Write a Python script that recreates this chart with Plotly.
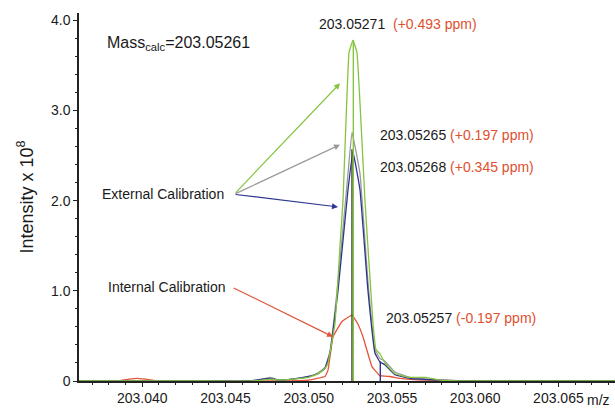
import plotly.graph_objects as go

# Green trace (external calibration, highest)
green_mz = [203.0362, 203.0440, 203.0465, 203.0472, 203.0477, 203.0482, 203.0490, 203.0500,
            203.05056, 203.05098, 203.05116, 203.05158, 203.05188, 203.05206, 203.05242,
            203.05266, 203.05290, 203.05338, 203.05386, 203.05404, 203.05428, 203.05458,
            203.05518, 203.05608, 203.05698, 203.05788, 203.0600, 203.0684]
green_int = [0.0, 0.0, 0.0, 0.01, 0.02, 0.01, 0.02, 0.04,
             0.08, 0.14, 0.2, 0.64, 1.5, 2.0, 3.64,
             3.78, 3.64, 2.0, 0.64, 0.35, 0.3, 0.2,
             0.08, 0.04, 0.04, 0.01, 0.0, 0.0]

# Gray trace (external calibration, middle)
gray_mz = [203.0362, 203.0440, 203.0465, 203.0472, 203.0477, 203.0482, 203.0490, 203.0500,
           203.05056, 203.05098, 203.05128, 203.05176, 203.05236, 203.05260, 203.05308,
           203.05356, 203.05398, 203.05428, 203.05458, 203.05518, 203.05608, 203.05788,
           203.0600, 203.0684]
gray_int = [0.0, 0.0, 0.0, 0.02, 0.04, 0.01, 0.02, 0.05,
            0.09, 0.15, 0.33, 1.1, 2.3, 2.76, 2.3,
            1.1, 0.35, 0.25, 0.22, 0.1, 0.04, 0.01,
            0.0, 0.0]

# Blue trace (external calibration, lowest)
blue_mz = [203.0362, 203.0440, 203.0465, 203.0472, 203.0477, 203.0482, 203.0490, 203.0500,
           203.05056, 203.05098, 203.05128, 203.05176, 203.05236, 203.05266, 203.05308,
           203.05356, 203.05398, 203.05428, 203.05458, 203.05518, 203.05608, 203.05788,
           203.0600, 203.0684]
blue_int = [0.0, 0.0, 0.0, 0.02, 0.03, 0.01, 0.02, 0.05,
            0.08, 0.14, 0.31, 1.0, 2.12, 2.54, 2.12,
            1.0, 0.31, 0.21, 0.18, 0.07, 0.03, 0.01,
            0.0, 0.0]

# Red trace (internal calibration)
red_mz = [203.0362, 203.0385, 203.0392, 203.0397, 203.0402, 203.0410, 203.0480, 203.0500,
          203.05098, 203.05116, 203.05146, 203.05200, 203.05260, 203.05296, 203.05326,
          203.05380, 203.05428, 203.05488, 203.05548, 203.0570, 203.0600, 203.0684]
red_int = [0.0, 0.0, 0.02, 0.03, 0.02, 0.0, 0.0, 0.01,
           0.05, 0.12, 0.49, 0.66, 0.73, 0.63, 0.49,
           0.16, 0.06, 0.05, 0.03, 0.01, 0.0, 0.0]

# centroid sticks
stick_mz = [203.05260, 203.05268, 203.05430]
stick_h = [2.57, 3.78, 0.22]

xtick_vals = [203.040, 203.045, 203.050, 203.055, 203.060, 203.065]
xtick_text = ["203.040", "203.045", "203.050", "203.055", "203.060", "203.065"]
ytick_vals = [0, 1, 2, 3, 4]
ytick_text = ["0", "1.0", "2.0", "3.0", "4.0"]

GREEN = "#86c440"
GRAY = "#9a9a9a"
BLUE = "#2c3590"
RED = "#e2553a"
DARK = "#2f3f2a"
PPM = "#e0502e"

fig = go.Figure()
for xs, ys, c in [(red_mz, red_int, RED), (gray_mz, gray_int, GRAY),
                  (blue_mz, blue_int, BLUE), (green_mz, green_int, GREEN)]:
    fig.add_trace(go.Scatter(x=xs, y=ys, mode="lines",
                             line=dict(color=c, width=1.3, shape="spline", smoothing=0.25)))
stick_colors = [DARK, GREEN, BLUE]
for sx, sh, sc in zip(stick_mz, stick_h, stick_colors):
    fig.add_trace(go.Scatter(x=[sx, sx], y=[0, sh], mode="lines", line=dict(color=sc, width=1.4)))

F = "Liberation Sans, Arial, sans-serif"
ann = []
def txt(x, y, s, size=14, xanchor="left"):
    ann.append(dict(x=x, y=y, xref="x", yref="y", text=s, showarrow=False,
                    xanchor=xanchor, yanchor="middle", font=dict(family=F, size=size, color="#1a1a1a")))

txt(203.03776, 3.74, "Mass<sub>calc</sub>=203.05261", size=16)
txt(203.05050, 3.96, "203.05271  <span style='color:%s'>(+0.493 ppm)</span>" % PPM)
txt(203.05416, 2.73, "203.05265 <span style='color:%s'>(+0.197 ppm)</span>" % PPM)
txt(203.05416, 2.37, "203.05268 <span style='color:%s'>(+0.345 ppm)</span>" % PPM)
txt(203.05452, 0.70, "203.05257 <span style='color:%s'>(-0.197 ppm)</span>" % PPM)
txt(203.04504, 2.07, "External Calibration", xanchor="right")
txt(203.04516, 1.04, "Internal Calibration", xanchor="right")

tail_ext = (203.04552, 2.07)
for hx, hy, c in [(203.05188, 3.30, GREEN), (203.05188, 2.62, GRAY), (203.05176, 1.93, BLUE)]:
    ann.append(dict(x=hx, y=hy, ax=tail_ext[0], ay=tail_ext[1], xref="x", yref="y",
                    axref="x", ayref="y", text="", showarrow=True, arrowhead=2,
                    arrowsize=1, arrowwidth=1.2, arrowcolor=c))
ann.append(dict(x=203.05146, y=0.49, ax=203.04540, ay=1.04, xref="x", yref="y",
                axref="x", ayref="y", text="", showarrow=True, arrowhead=2,
                arrowsize=1, arrowwidth=1.2, arrowcolor=RED))
ann.append(dict(x=1, y=0, xref="paper", yref="paper", xanchor="right", yanchor="top",
                xshift=-3, yshift=-9,
                text="m/z", showarrow=False, font=dict(family=F, size=14, color="#1a1a1a")))

fig.update_layout(
    width=615, height=408,
    margin=dict(l=79, r=0, t=13, b=27, autoexpand=False),
    paper_bgcolor="white", plot_bgcolor="white",
    showlegend=False,
    annotations=ann,
    font=dict(family=F, size=14, color="#1a1a1a"),
)
fig.update_xaxes(range=[203.0362, 203.0684], tickvals=xtick_vals, ticktext=xtick_text,
                 automargin=False,
                 showgrid=False, zeroline=False, showline=True, linecolor="#222", linewidth=1.5,
                 ticks="outside", ticklen=4, tickcolor="#222", ticklabelstandoff=-1,
                 minor=dict(tick0=203.040, dtick=0.001, ticks="outside", ticklen=2, tickcolor="#222"),
                 tickfont=dict(family=F, size=14, color="#1a1a1a"))
fig.update_yaxes(range=[0, 4.08], tickvals=ytick_vals, ticktext=ytick_text,
                 automargin=False,
                 showgrid=False, zeroline=False, showline=True, linecolor="#222", linewidth=1.5,
                 ticks="outside", ticklen=4, tickcolor="#222",
                 minor=dict(tick0=0, dtick=0.2, ticks="outside", ticklen=2, tickcolor="#222"),
                 tickfont=dict(family=F, size=14, color="#1a1a1a"),
                 title=dict(text="Intensity x 10<sup>8</sup>", font=dict(family=F, size=18, color="#1a1a1a"), standoff=13))

fig.write_html("out.html", config={"displayModeBar": False},
               post_script="document.body.style.margin='0';document.body.style.overflow='hidden';")
